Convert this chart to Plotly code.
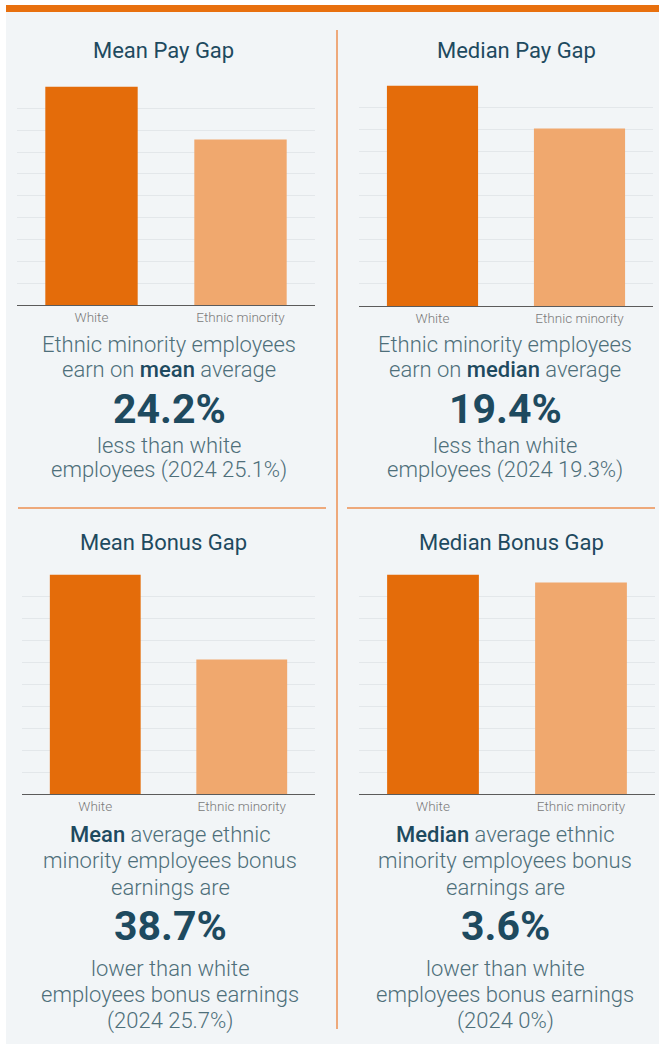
import plotly.graph_objects as go

W, H = 659, 1044

categories = ["White", "Ethnic minority"]
panel_titles = ["Mean Pay Gap", "Median Pay Gap", "Mean Bonus Gap", "Median Bonus Gap"]
gap_values = [24.2, 19.4, 38.7, 3.6]          # % lower for ethnic minority employees
prior_year = ["25.1%", "19.3%", "25.7%", "0%"]  # 2024 comparison
white_index = 100.0                             # white employees as the reference level

bar_colors = ["#E46C0A", "#F0A86E"]
title_color = "#1E4A5F"
body_color = "#4E6F7A"
font_family = "Roboto, 'Open Sans', sans-serif"

BODY = 22
NUM = 41
TITLE = 22


def px_x(v):
    return v / W


def px_y(v):
    return 1 - v / H


# plot areas in pixel space (left, right, top, bottom)
areas = [
    (17, 315, 86, 305),
    (359, 653, 85, 306),
    (22, 315, 574, 794),
    (359, 655, 574, 794),
]

fig = go.Figure()

for i, gap in enumerate(gap_values):
    n = i + 1
    xa = "x" if n == 1 else f"x{n}"
    ya = "y" if n == 1 else f"y{n}"
    fig.add_trace(go.Bar(
        x=categories,
        y=[white_index, white_index - gap],
        marker=dict(color=bar_colors, line=dict(width=0)),
        xaxis=xa, yaxis=ya,
        hoverinfo="skip",
        showlegend=False,
    ))
    l, r, t, b = areas[i]
    fig.layout[f"xaxis{n}" if n > 1 else "xaxis"] = dict(
        domain=[px_x(l), px_x(r)],
        anchor=ya,
        showline=True, linecolor="#5B5B5B", linewidth=1,
        showgrid=False, zeroline=False,
        ticks="",
        tickfont=dict(family=font_family, size=13.5, color="#7A7A7A", weight=300),
        fixedrange=True,
    )
    fig.layout[f"yaxis{n}" if n > 1 else "yaxis"] = dict(
        domain=[px_y(b), px_y(t)],
        anchor=xa,
        range=[0, 100.3],
        dtick=10,
        showgrid=True, gridcolor="#E3E7EA", gridwidth=1,
        zeroline=False, showticklabels=False, showline=False,
        fixedrange=True,
    )

annotations = []


def add_text(text, x, baseline, size, color, weight=None):
    # position each line by its baseline; box middle sits ~0.35em above it
    font = dict(family=font_family, size=size, color=color)
    if weight is not None:
        font["weight"] = weight
    annotations.append(dict(
        text=text, x=px_x(x), y=px_y(baseline - 0.35 * size), xref="paper", yref="paper",
        xanchor="center", yanchor="middle", showarrow=False,
        align="center", font=font,
    ))


def emph(word):
    return f"<span style='color:{title_color};font-weight:500'>{word}</span>"


# panel titles
title_pos = [(163, 58), (516, 58), (163, 550), (511, 550)]
for t, (x, y) in zip(panel_titles, title_pos):
    add_text(t, x, y, TITLE, title_color)

# pay gap descriptions
for k, (word, cx) in enumerate([("mean", 169), ("median", 505)]):
    lines_a = ["Ethnic minority employees", f"earn on {emph(word)} average"]
    lines_b = ["less than white", f"employees (2024 {prior_year[k]})"]
    for txt, bl in zip(lines_a, [352, 377]):
        add_text(txt, cx, bl, BODY, body_color, 300)
    add_text(f"{gap_values[k]}%", cx, 423, NUM, title_color, 700)
    for txt, bl in zip(lines_b, [453, 478]):
        add_text(txt, cx, bl, BODY, body_color, 300)

# bonus gap descriptions
for k, (word, cx) in enumerate([("Mean", 170), ("Median", 505)]):
    idx = k + 2
    lines_a = [f"{emph(word)} average ethnic", "minority employees bonus", "earnings are"]
    lines_b = ["lower than white", "employees bonus earnings", f"(2024 {prior_year[idx]})"]
    for txt, bl in zip(lines_a, [842, 868, 895]):
        add_text(txt, cx, bl, BODY, body_color, 300)
    add_text(f"{gap_values[idx]}%", cx, 940, NUM, title_color, 700)
    for txt, bl in zip(lines_b, [976, 1002, 1029]):
        add_text(txt, cx, bl, BODY, body_color, 300)

shapes = [
    # panel background
    dict(type="rect", xref="paper", yref="paper", x0=px_x(6), x1=1, y0=0, y1=px_y(5),
         fillcolor="#F2F5F7", line=dict(width=0), layer="below"),
    # top accent band
    dict(type="rect", xref="paper", yref="paper", x0=px_x(6), x1=1, y0=px_y(12), y1=px_y(5),
         fillcolor="#E8700E", line=dict(width=0), layer="below"),
    # vertical divider
    dict(type="line", xref="paper", yref="paper", x0=px_x(337), x1=px_x(337), y0=px_y(1029), y1=px_y(30),
         line=dict(color="#EC8F52", width=1.5)),
    # horizontal dividers
    dict(type="line", xref="paper", yref="paper", x0=px_x(18), x1=px_x(326), y0=px_y(508), y1=px_y(508),
         line=dict(color="#EC8F52", width=1.5)),
    dict(type="line", xref="paper", yref="paper", x0=px_x(347), x1=px_x(655), y0=px_y(508), y1=px_y(508),
         line=dict(color="#EC8F52", width=1.5)),
]

fig.update_layout(
    width=W, height=H,
    margin=dict(l=0, r=0, t=0, b=0),
    paper_bgcolor="#FFFFFF",
    plot_bgcolor="rgba(0,0,0,0)",
    bargap=0.38,
    annotations=annotations,
    shapes=shapes,
    font=dict(family=font_family),
)

fig.write_html("out.html", config={"displayModeBar": False})
